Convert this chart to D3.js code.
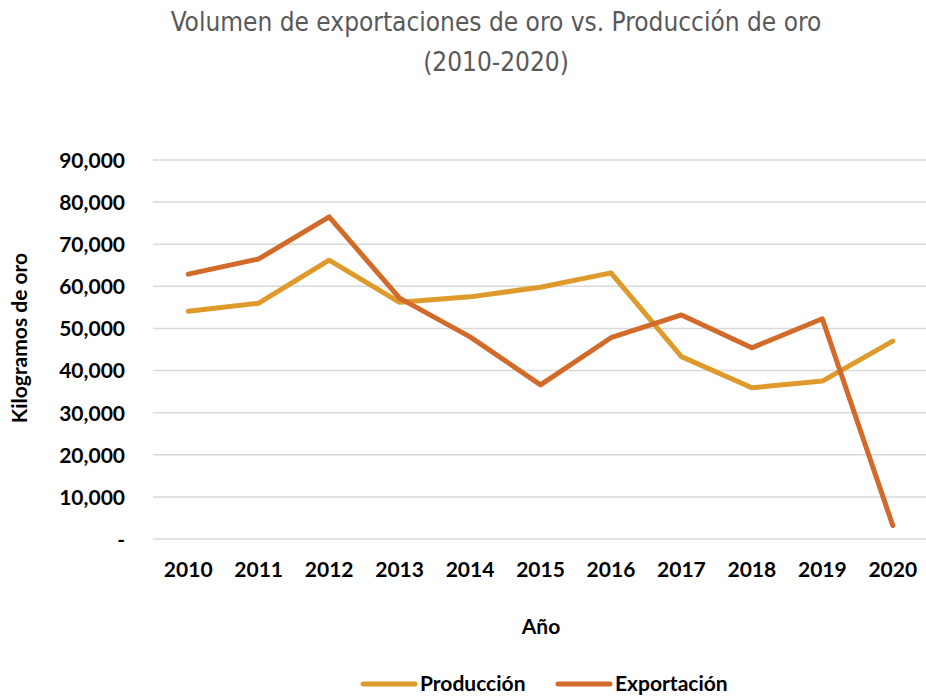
<!DOCTYPE html>
<html>
<head>
	<meta charset="utf-8">
	<title>Exportaciones vs Producción de oro</title>
	<script src="https://d3js.org/d3.v7.min.js"></script>
	<style>
		body { margin: 0; background: #fff; }
		svg text { font-family: Lato, "Open Sans", sans-serif; }
	</style>
</head>
<body>
	<svg id="chart" width="926" height="696"></svg>
	<script type="text/javascript">
// datos
var anios = ['2010', '2011', '2012', '2013', '2014', '2015', '2016', '2017', '2018', '2019', '2020'];
var produccion = [54100, 56000, 66200, 56200, 57500, 59800, 63200, 43300, 35900, 37500, 47000];
var exportacion = [62900, 66500, 76500, 57200, 48000, 36600, 47800, 53200, 45400, 52300, 3200];
var yTicks = [0, 10000, 20000, 30000, 40000, 50000, 60000, 70000, 80000, 90000];
var series = [
    { nombre: 'Producción', valores: produccion, color: '#DE9A2B' },
    { nombre: 'Exportación', valores: exportacion, color: '#D26B2A' }
];

var svg = d3.select('#chart');
var plotLeft = 153, plotRight = 928, plotTop = 160, plotBottom = 539;

var x = d3.scaleBand().domain(anios).range([plotLeft, plotRight]);
var y = d3.scaleLinear().domain([0, 90000]).range([plotBottom, plotTop]);

// título
var titulo = svg.append('g')
    .attr('fill', '#595959')
    .attr('text-anchor', 'middle');
titulo.append('text').attr('x', 496).attr('y', 31)
    .style('font-family', '"DejaVu Sans Condensed", "DejaVu Sans", sans-serif')
    .attr('font-size', 26)
    .text('Volumen de exportaciones de oro vs. Producción de oro');
titulo.append('text').attr('x', 496).attr('y', 71)
    .style('font-family', '"DejaVu Sans Condensed", "DejaVu Sans", sans-serif')
    .attr('font-size', 26)
    .text('(2010-2020)');

// líneas de cuadrícula
svg.append('g')
    .selectAll('line')
    .data(yTicks)
    .join('line')
    .attr('x1', plotLeft).attr('x2', plotRight)
    .attr('y1', function(d) { return y(d); })
    .attr('y2', function(d) { return y(d); })
    .attr('stroke', '#d9d9d9')
    .attr('stroke-width', 1.5);

// eje y
var ejeY = svg.append('g')
    .attr('transform', 'translate(125,0)')
    .call(d3.axisLeft(y).tickValues(yTicks).tickSize(0).tickPadding(0)
        .tickFormat(function(d) { return d === 0 ? '-' : d3.format(',')(d); }));
ejeY.select('.domain').remove();
ejeY.selectAll('text')
    .attr('font-family', 'Lato, sans-serif')
    .attr('font-size', 21)
    .attr('font-weight', 'bold')
    .attr('fill', '#000')
    .attr('dy', '0.35em');

// eje x
var ejeX = svg.append('g')
    .attr('transform', 'translate(0,570)')
    .call(d3.axisBottom(x).tickSize(0).tickPadding(0));
ejeX.select('.domain').remove();
ejeX.selectAll('text')
    .attr('font-family', 'Lato, sans-serif')
    .attr('font-size', 21)
    .attr('font-weight', 'bold')
    .attr('fill', '#000')
    .attr('dy', '0.35em');

// títulos de ejes
svg.append('text')
    .attr('x', 541).attr('y', 634)
    .attr('text-anchor', 'middle')
    .attr('font-size', 21).attr('font-weight', 'bold')
    .attr('fill', '#000')
    .text('Año');
svg.append('text')
    .attr('transform', 'translate(27,338) rotate(-90)')
    .attr('text-anchor', 'middle')
    .attr('font-size', 21).attr('font-weight', 'bold')
    .attr('fill', '#000')
    .text('Kilogramos de oro');

// líneas de las series
var lineCreator = d3.line()
    .x(function(d, i) { return x(anios[i]) + x.bandwidth() / 2; })
    .y(function(d) { return y(d); });

svg.append('g')
    .selectAll('path')
    .data(series)
    .join('path')
    .attr('d', function(s) { return lineCreator(s.valores); })
    .attr('fill', 'none')
    .attr('stroke', function(s) { return s.color; })
    .attr('stroke-width', 5)
    .attr('stroke-linejoin', 'round')
    .attr('stroke-linecap', 'round');

// leyenda
var leyendaX = [363, 558];
var leyenda = svg.append('g')
    .selectAll('g')
    .data(series)
    .join('g')
    .attr('transform', function(s, i) { return 'translate(' + leyendaX[i] + ',684)'; });
leyenda.append('line')
    .attr('x1', 0).attr('x2', 52)
    .attr('y1', 0).attr('y2', 0)
    .attr('stroke', function(s) { return s.color; })
    .attr('stroke-width', 5)
    .attr('stroke-linecap', 'round');
leyenda.append('text')
    .attr('x', 57).attr('y', 0)
    .attr('dy', '0.35em')
    .attr('font-size', 21).attr('font-weight', 'bold')
    .attr('fill', '#000')
    .text(function(s) { return s.nombre; });
	</script>
</body>
</html>
